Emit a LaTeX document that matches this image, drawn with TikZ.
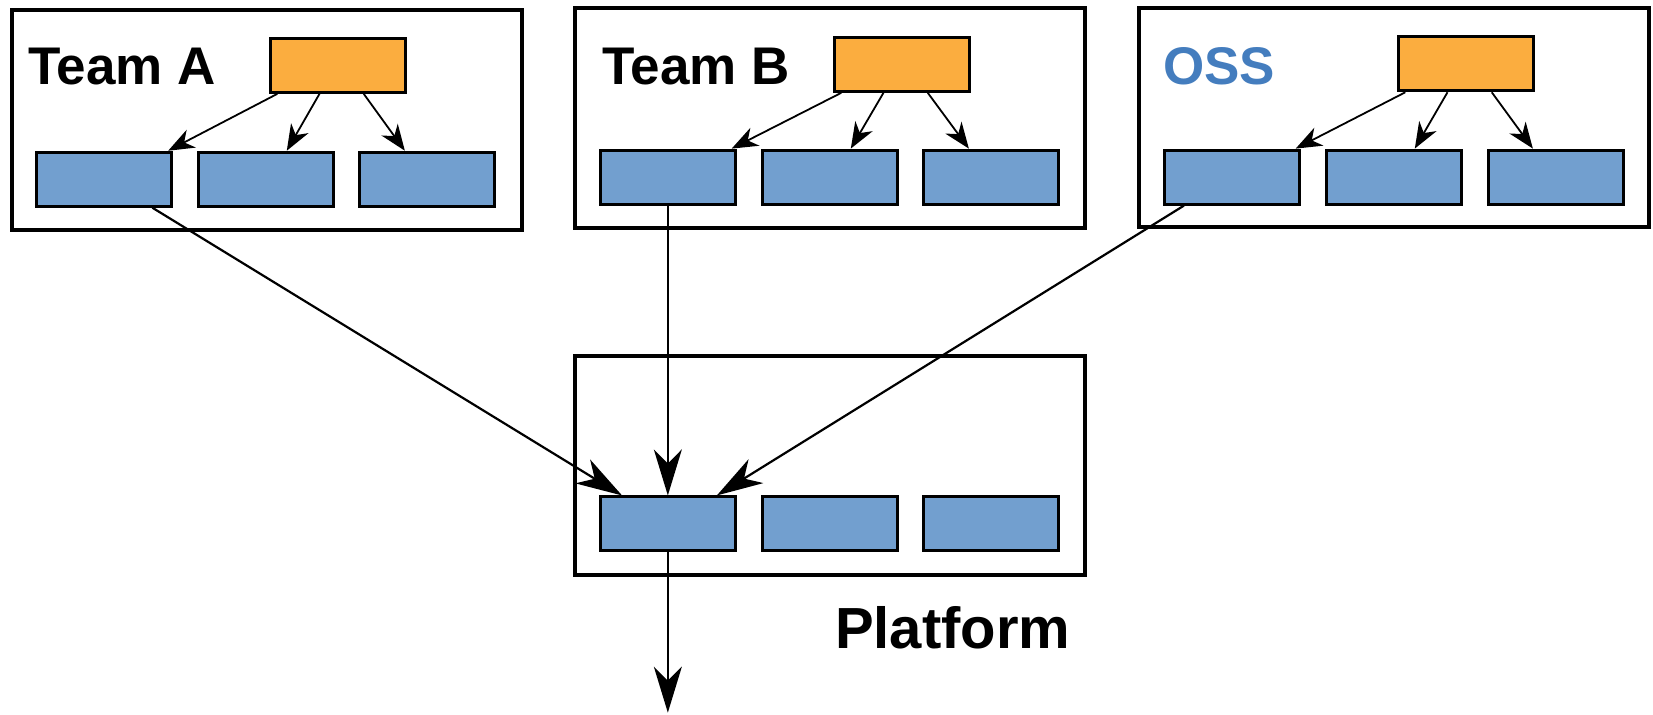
\documentclass[tikz,border=0pt]{standalone}
\usepackage{fontspec}
\setmainfont{Liberation Sans}
\usetikzlibrary{arrows.meta,calc}
\definecolor{boxorange}{RGB}{251,173,63}
\definecolor{boxblue}{RGB}{114,159,207}
\definecolor{ossblue}{RGB}{68,125,190}
\begin{document}
\begin{tikzpicture}[x=1.0542pt,y=-1.0542pt,
  frame/.style={draw,line width=4pt,minimum width=510pt,minimum height=219.5pt,inner sep=0pt},
  comp/.style={draw,line width=3pt,fill=boxblue,minimum width=135pt,minimum height=54pt,inner sep=0pt},
  lead/.style={comp,fill=boxorange},
  teamlabel/.style={font=\bfseries\fontsize{53}{60}\selectfont,inner sep=0pt,anchor=base west},
  smallarrow/.style={line width=1.8pt,-{Stealth[length=26pt,width=20pt,inset=8pt]}},
  bigarrow/.style={line width=2.2pt,-{Stealth[length=46pt,width=28pt,inset=14pt]}}]
\useasboundingbox (0,0) rectangle (1568,678);
\fill[white] (0,0) rectangle (1568,678);
% frames
\node[frame] (fA) at (253,114) {};
\node[frame] (fB) at (787.5,112) {};
\node[frame] (fC) at (1322.5,111.5) {};
\node[frame] (fP) at (787.5,441.5) {};
% labels
\node[teamlabel] (tA) at (26.5,80.6) {Team A};
\node[teamlabel] (tB) at (571,80.3) {Team B};
\node[teamlabel,text=ossblue] (tC) at (1103,80.3) {OSS};
\node[teamlabel,font=\bfseries\fontsize{58}{66}\selectfont] (tP) at (792,615.6) {Platform};
% leads
\node[lead] (oA) at (320.5,62) {};
\node[lead] (oB) at (855.5,61) {};
\node[lead] (oC) at (1390.5,60.5) {};
% components
\node[comp] (a1) at (99,170) {};
\node[comp] (a2) at (252.5,170) {};
\node[comp] (a3) at (405.5,170) {};
\node[comp] (b1) at (633.5,168) {};
\node[comp] (b2) at (787.5,168) {};
\node[comp] (b3) at (940.5,168) {};
\node[comp] (c1) at (1168.5,168) {};
\node[comp] (c2) at (1322.5,168) {};
\node[comp] (c3) at (1475.5,168) {};
\node[comp] (p1) at (633.5,497) {};
\node[comp] (p2) at (787.5,497) {};
\node[comp] (p3) at (940.5,497) {};
\coordinate (out) at (633.5,676);
% small arrows
\foreach \o/\x/\y/\z in {oA/a1/a2/a3,oB/b1/b2/b3,oC/c1/c2/c3}{
  \draw[smallarrow] ($(\o.south west)+(8,0)$) -- ($(\x.north west)+(126,0)$);
  \draw[smallarrow] ($(\o.south west)+(48,0)$) -- ($(\y.north west)+(85,0)$);
  \draw[smallarrow] ($(\o.south west)+(90,0)$) -- ($(\z.north west)+(44,0)$);
}
% big arrows
\draw[bigarrow] ($(a1.south west)+(111,0)$) -- ($(p1.north west)+(22,0)$);
\draw[bigarrow] (b1.south) -- (p1.north);
\draw[bigarrow] ($(c1.south west)+(20,0)$) -- ($(p1.north east)+(-19,0)$);
\draw[bigarrow] (p1.south) -- (out);
\end{tikzpicture}
\end{document}
